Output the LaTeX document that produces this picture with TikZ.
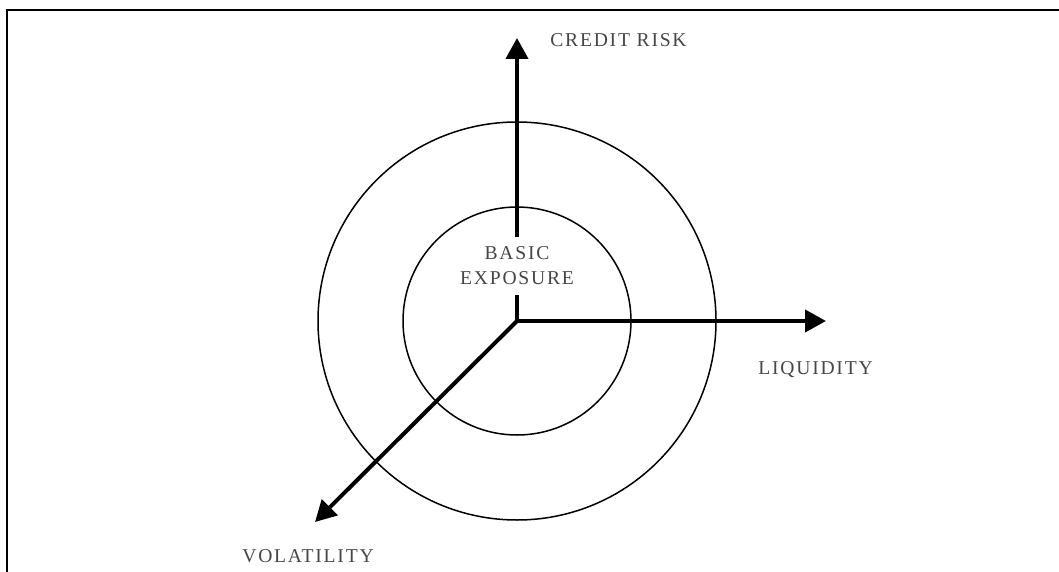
\documentclass[tikz,border=0pt]{standalone}
\usepackage{fontspec}
\usetikzlibrary{arrows.meta,positioning}
\newfontfamily\riskfont[LetterSpace=9]{Liberation Serif}
\definecolor{labelgray}{RGB}{70,70,70}

\begin{document}
\begin{tikzpicture}[
  x=0.5pt, y=-0.5pt,
  lbl/.style={font=\riskfont\fontsize{9.8}{12.5}\selectfont, text=labelgray, inner sep=0pt},
  ring/.style={draw=black, line width=0.75pt},
  arr/.style={-{Triangle[length=10.5pt,width=11pt]}, line width=2pt},
  frame/.style={draw=black, line width=1pt}
]
\useasboundingbox (0,0) rectangle (1059,572);
\draw[frame] (7,572) -- (7,10) -- (1059,10);

\coordinate (o) at (517,321);
\coordinate (crtip) at (517,38);
\coordinate (lqtip) at (826,321);
\coordinate (vltip) at (315,522);

\draw[ring] (o) circle[radius=57pt];
\draw[ring] (o) circle[radius=99.5pt];

\draw[arr] (o) -- (crtip);
\draw[arr] (o) -- (lqtip);
\draw[arr] (o) -- (vltip);

\node[lbl, fill=white, align=center, inner xsep=2pt, inner ysep=5pt] (basic) at (517,266) {BASIC\\EXPOSURE};
\node[lbl, anchor=west] (credit) at (550,40) {CREDIT RISK};
\node[lbl, anchor=west] (liquid) at (758,370) {LIQUIDITY};
\node[lbl, anchor=west] (volat) at (242,556) {VOLATILITY};
\end{tikzpicture}
\end{document}
